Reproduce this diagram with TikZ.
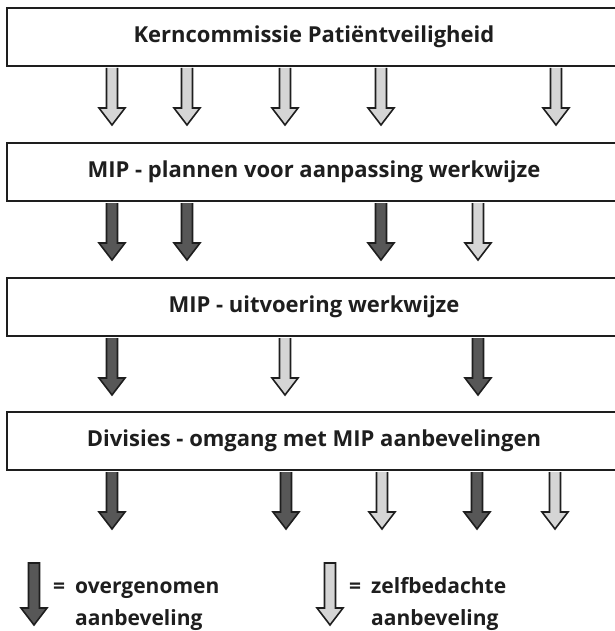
\documentclass[tikz,border=0pt]{standalone}
\usepackage{fontspec}
\setmainfont{Open Sans}
\usetikzlibrary{calc}

\definecolor{lijn}{HTML}{1E1E1E}
\definecolor{donker}{HTML}{575757}
\definecolor{licht}{HTML}{D5D5D5}

\tikzset{
  x=1pt, y=1pt,
  laag/.style={draw=lijn, line width=2pt, fill=white, anchor=north west,
    minimum width=614pt, minimum height=58pt, inner sep=0pt, text=lijn,
    font=\bfseries\fontsize{22}{26}\selectfont},
  legtekst/.style={anchor=base west, inner sep=0pt, text=lijn,
    font=\bfseries\fontsize{21}{32}\selectfont},
  % open-topped arrow hanging below a layer box
  pics/pijl/.style={code={
    \draw[draw=lijn, line width=1.6pt, fill=#1, line join=miter]
      (-5.5,-1) -- (-5.5,-41) -- (-13,-41) -- (0,-58) -- (13,-41)
      -- (5.5,-41) -- (5.5,-1);}},
  % closed arrow for the key
  pics/sleutelpijl/.style={code={
    \draw[draw=lijn, line width=1.6pt, fill=#1, line join=miter]
      (-5.5,0) -- (-5.5,-45) -- (-13,-45) -- (0,-62) -- (13,-45)
      -- (5.5,-45) -- (5.5,0) -- cycle;}}
}

\begin{document}
\begin{tikzpicture}
\useasboundingbox (0,0) rectangle (614,-631);
\fill[white] (0,0) rectangle (614,-631);

% the four layers
\node[laag] (k1) at (6,-7)   {Kerncommissie Patiëntveiligheid};
\node[laag] (k2) at (6,-142) {MIP - plannen voor aanpassing werkwijze};
\node[laag] (k3) at (6,-277) {MIP - uitvoering werkwijze};
\node[laag] (k4) at (6,-411) {Divisies - omgang met MIP aanbevelingen};

% recommendations passed down from each layer
\foreach \x/\c in {112/licht, 187/licht, 285/licht, 381/licht, 556/licht}
  \pic at ($(k1.south west)+(\x-6,0)$) {pijl=\c};
\foreach \x/\c in {112/donker, 187/donker, 381/donker, 478/licht}
  \pic at ($(k2.south west)+(\x-6,0)$) {pijl=\c};
\foreach \x/\c in {112/donker, 285/licht, 478/donker}
  \pic at ($(k3.south west)+(\x-6,0)$) {pijl=\c};
\foreach \x/\c in {112/donker, 286/donker, 382/licht, 477/donker, 555/licht}
  \pic at ($(k4.south west)+(\x-6,0)$) {pijl=\c};

% key
\coordinate (s1) at (34,-563);
\coordinate (s2) at (330,-563);
\pic at (s1) {sleutelpijl=donker};
\pic at (s2) {sleutelpijl=licht};
\node[legtekst] (t1) at (53,-593)
  {\begin{tabular}[t]{@{}l@{\hspace{10pt}}l@{}}=&overgenomen\\&aanbeveling\end{tabular}};
\node[legtekst] (t2) at (349,-593)
  {\begin{tabular}[t]{@{}l@{\hspace{10pt}}l@{}}=&zelfbedachte\\&aanbeveling\end{tabular}};
\end{tikzpicture}
\end{document}
